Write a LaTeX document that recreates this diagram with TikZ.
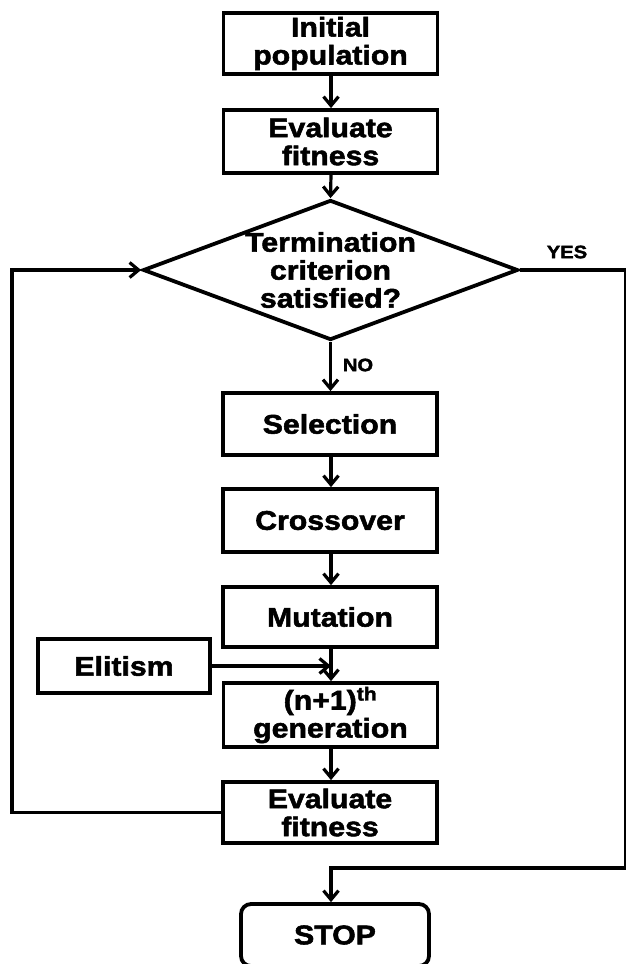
\documentclass[tikz,border=0pt]{standalone}
\usepackage{fontspec}
\setmainfont{Liberation Sans}[FakeStretch=1.12,FakeBold=2]
\usetikzlibrary{arrows.meta,shapes.geometric}
\begin{document}
\begin{tikzpicture}[x=1pt,y=-1pt,
  every node/.style={font=\fontsize{27}{28}\selectfont\bfseries},
  box/.style={draw,line width=3.8pt,minimum width=#1,inner sep=0pt,align=center},
  box/.default=214pt,
  arr/.style={line width=3.2pt,-{Straight Barb[length=9pt,width=15pt,line width=3.2pt]}},
  conn/.style={line width=3.2pt},
  lbl/.style={font=\fontsize{18}{20}\selectfont\bfseries}]
\useasboundingbox[fill=white] (0,0) rectangle (625,964);

\node[box,minimum height=61pt] (init) at (330.5,43.5) {Initial\\population};
\node[box,minimum height=63pt] (eval1) at (330.5,141.5) {Evaluate\\fitness};
\node[draw,line width=3.8pt,shape=diamond,aspect=2.68,minimum width=375pt,minimum height=140pt,inner sep=0pt] (dia) at (330.5,270) {};
\node[align=center] (dtext) at (dia.center) {Termination\\criterion\\satisfied?};
\node[box,minimum height=62pt] (sel) at (330,424) {Selection};
\node[box,minimum height=63pt] (cross) at (330,520.5) {Crossover};
\node[box,minimum height=60pt] (mut) at (330,617) {Mutation};
\node[box=172pt,minimum height=54pt] (elit) at (124,666) {Elitism};
\node[box,minimum height=64pt] (gen) at (330.5,715) {(n+1)\textsuperscript{th}\\generation};
\node[box,minimum height=61pt] (eval2) at (330,812.5) {Evaluate\\fitness};
\node[draw,line width=3.8pt,rounded corners=10pt,minimum width=188pt,minimum height=62pt,inner sep=0pt] (stop) at (335,935) {STOP};

\node[lbl] (yes) at (567,252) {YES};
\node[lbl] (no) at (358,365) {NO};

\coordinate (l1) at (12,812.5);
\coordinate (l2) at (12,270);
\coordinate (r1) at (625.8,270);
\coordinate (r2) at (625.8,868);
\coordinate (m) at (331,666);

\draw[arr] (init.south -| 331,0) -- (eval1.north -| 331,0);
\draw[arr] (eval1.south -| 331,0) -- (dia.north);
\draw[arr] (dia.south) -- (sel.north -| dia.south);
\draw[arr] (sel.south -| 331,0) -- (cross.north -| 331,0);
\draw[arr] (cross.south -| 331,0) -- (mut.north -| 331,0);
\draw[arr] (mut.south -| 331,0) -- (gen.north -| 331,0);
\draw[arr] (elit.east) -- (m);
\draw[arr] (gen.south -| 331,0) -- (eval2.north -| 331,0);
\draw[arr] (eval2.west) -- (l1) -- (l2) -- (dia.west);
\draw[conn] (dia.east) -- (r1) -- (r2);
\draw[arr] (r2) -- (331,868) -- (stop.north -| 331,0);
\end{tikzpicture}
\end{document}
